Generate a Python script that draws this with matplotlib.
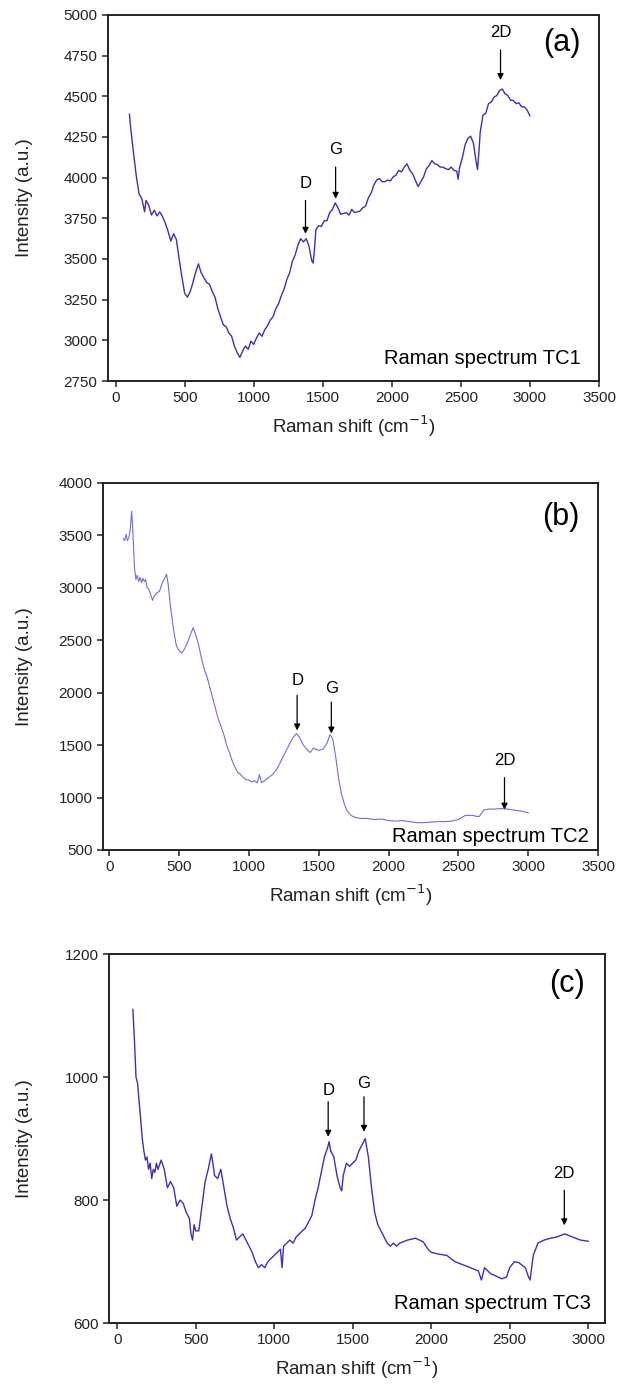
import matplotlib
matplotlib.use("Agg")
import matplotlib.pyplot as plt

plt.rcParams['font.family'] = ['Liberation Sans', 'DejaVu Sans']

# Raman shift / intensity
x_tc1 = [100, 110, 130, 150, 170, 190, 200, 210, 220, 240, 260, 280, 300, 320, 340, 360, 380,
         400, 420, 440, 460, 480, 500, 520, 540, 560, 580, 600, 620, 640, 660, 680, 700, 720,
         740, 760, 780, 800, 820, 840, 860, 880, 900, 920, 940, 960, 980, 1000, 1020, 1040,
         1060, 1080, 1100, 1120, 1140, 1160, 1180, 1200, 1220, 1240, 1260, 1280, 1300, 1320,
         1340, 1360, 1380, 1400, 1420, 1430, 1440, 1450, 1470, 1490, 1510, 1530, 1550, 1570,
         1590, 1610, 1630, 1650, 1670, 1690, 1710, 1730, 1750, 1770, 1790, 1810, 1830, 1850,
         1870, 1890, 1910, 1930, 1950, 1970, 1990, 2010, 2030, 2050, 2070, 2090, 2110, 2130,
         2150, 2170, 2190, 2210, 2230, 2250, 2270, 2290, 2310, 2330, 2350, 2370, 2390, 2410,
         2430, 2450, 2470, 2480, 2490, 2510, 2530, 2550, 2570, 2590, 2610, 2620, 2630, 2640,
         2660, 2680, 2700, 2720, 2740, 2760, 2780, 2800, 2820, 2840, 2860, 2880, 2900, 2920,
         2940, 2960, 2980, 3000]
y_tc1 = [4390, 4300, 4150, 4010, 3900, 3870, 3830, 3790, 3860, 3830, 3770, 3800, 3765, 3790,
         3760, 3720, 3670, 3610, 3655, 3620, 3500, 3390, 3290, 3265, 3300, 3355, 3420, 3470,
         3415, 3385, 3355, 3345, 3300, 3265, 3195, 3145, 3095, 3085, 3045, 3025, 2965, 2925,
         2895, 2935, 2965, 2945, 2995, 2975, 3015, 3045, 3025, 3065, 3090, 3125, 3145, 3195,
         3225, 3275, 3315, 3375, 3415, 3485, 3525, 3585, 3625, 3605, 3625, 3580, 3490, 3475,
         3560, 3680, 3705, 3700, 3735, 3735, 3785, 3805, 3845, 3815, 3775, 3780, 3785, 3770,
         3805, 3785, 3790, 3795, 3815, 3825, 3875, 3905, 3955, 3985, 3995, 3975, 3975, 3985,
         3980, 4005, 4015, 4045, 4035, 4065, 4085, 4045, 4025, 3985, 3945, 3975, 4005, 4055,
         4075, 4105, 4085, 4080, 4065, 4065, 4055, 4050, 4065, 4045, 4040, 3990, 4060, 4120,
         4200, 4240, 4255, 4215, 4100, 4050, 4150, 4280, 4385, 4395, 4455, 4465, 4495, 4505,
         4535, 4545, 4515, 4505, 4475, 4475, 4455, 4460, 4435, 4435, 4415, 4380]

x_tc2 = [100, 110, 120, 130, 140, 150, 160, 170, 180, 190, 200, 210, 220, 230, 240, 250, 260,
         270, 280, 290, 300, 310, 320, 340, 360, 380, 400, 410, 420, 440, 460, 480, 500, 520,
         540, 560, 580, 600, 620, 640, 660, 680, 700, 720, 740, 760, 780, 800, 820, 840, 860,
         880, 900, 920, 940, 960, 980, 1000, 1020, 1040, 1060, 1075, 1090, 1110, 1140, 1170,
         1200, 1230, 1260, 1290, 1320, 1340, 1360, 1390, 1420, 1440, 1460, 1480, 1500, 1530,
         1560, 1580, 1600, 1620, 1640, 1660, 1680, 1700, 1730, 1760, 1800, 1850, 1900, 1950,
         2000, 2050, 2100, 2150, 2200, 2250, 2300, 2350, 2400, 2450, 2500, 2550, 2600, 2630,
         2650, 2680, 2720, 2760, 2800, 2850, 2900, 2950, 3000]
y_tc2 = [3470, 3450, 3510, 3450, 3480, 3560, 3730, 3500, 3200, 3080, 3120, 3060, 3100, 3050,
         3090, 3060, 3080, 3000, 2990, 2960, 2920, 2880, 2920, 2950, 2970, 3050, 3100, 3130,
         3050, 2800, 2600, 2450, 2400, 2380, 2420, 2480, 2550, 2620, 2550, 2450, 2330, 2220,
         2150, 2050, 1950, 1850, 1750, 1680, 1600, 1500, 1430, 1350, 1290, 1240, 1220, 1190,
         1170, 1165, 1150, 1160, 1140, 1220, 1140, 1160, 1190, 1220, 1270, 1350, 1430, 1510,
         1580, 1610, 1580, 1500, 1450, 1430, 1470, 1460, 1450, 1460, 1520, 1600, 1560, 1400,
         1200, 1050, 950, 880, 830, 810, 800, 800, 790, 795, 780, 775, 780, 770, 760, 760, 765,
         770, 770, 775, 790, 830, 830, 820, 820, 880, 890, 890, 895, 890, 880, 870, 855]

x_tc3 = [100, 110, 120, 130, 140, 150, 160, 170, 180, 190, 200, 210, 220, 230, 240, 250, 260,
         280, 300, 320, 340, 360, 380, 400, 420, 440, 460, 470, 480, 490, 500, 520, 540, 560,
         580, 600, 610, 620, 640, 660, 680, 700, 720, 740, 760, 780, 800, 820, 840, 860, 880,
         900, 920, 940, 960, 980, 1000, 1020, 1040, 1050, 1060, 1080, 1100, 1120, 1140, 1160,
         1180, 1200, 1220, 1240, 1260, 1280, 1300, 1320, 1340, 1350, 1360, 1380, 1400, 1420,
         1430, 1440, 1460, 1480, 1500, 1520, 1540, 1560, 1580, 1600, 1620, 1640, 1660, 1680,
         1700, 1720, 1740, 1760, 1780, 1800, 1850, 1900, 1950, 1980, 2000, 2050, 2100, 2150,
         2200, 2250, 2300, 2320, 2340, 2380, 2400, 2450, 2480, 2500, 2530, 2560, 2600, 2620,
         2630, 2650, 2680, 2720, 2760, 2800, 2850, 2900, 2950, 3000]
y_tc3 = [1110, 1060, 1000, 990, 960, 930, 900, 880, 865, 870, 850, 860, 835, 850, 845, 860,
         850, 865, 850, 820, 830, 820, 790, 800, 795, 780, 770, 745, 735, 760, 750, 750, 790,
         830, 850, 875, 860, 840, 835, 850, 820, 790, 770, 755, 735, 740, 745, 735, 725, 715,
         700, 690, 695, 690, 700, 705, 710, 715, 720, 690, 725, 730, 735, 730, 740, 745, 750,
         755, 765, 775, 800, 820, 845, 870, 885, 895, 880, 870, 840, 820, 815, 840, 860, 855,
         860, 865, 880, 890, 900, 870, 820, 780, 760, 750, 740, 730, 725, 730, 725, 730, 735,
         738, 732, 720, 715, 712, 710, 700, 695, 690, 685, 670, 690, 680, 678, 672, 675, 690,
         700, 698, 690, 675, 670, 710, 730, 735, 738, 740, 745, 740, 735, 733]

# arrow marks: (label, x, text y, arrow tail y, arrow tip y)
peaks_tc1 = [('D', 1375, 3965, 3860, 3655), ('G', 1593, 4175, 4065, 3870), ('2D', 2787, 4890, 4785, 4600)]
peaks_tc2 = [('D', 1345, 2120, 1975, 1640), ('G', 1590, 2040, 1910, 1610), ('2D', 2830, 1350, 1190, 885)]
peaks_tc3 = [('D', 1344, 979, 960, 903), ('G', 1572, 989, 968, 911), ('2D', 2848, 843, 816, 759)]

panels = [
    dict(x=x_tc1, y=y_tc1, peaks=peaks_tc1, ylim=(2750, 5000), yticks=range(2750, 5001, 250),
         xlim=(-55, 3500), xticks=range(0, 3501, 500), color='#3c30b4', lw=1.0,
         tag='(a)', tag_y=4828, name='Raman spectrum TC1', name_xy=(3370, 2891),
         pos=[0.1717, 0.7253, 0.7806, 0.2639]),
    dict(x=x_tc2, y=y_tc2, peaks=peaks_tc2, ylim=(500, 4000), yticks=range(500, 4001, 500),
         xlim=(-45, 3500), xticks=range(0, 3501, 500), color='#6e6ed8', lw=0.8,
         tag='(b)', tag_y=3680, name='Raman spectrum TC2', name_xy=(3430, 630),
         pos=[0.1638, 0.3872, 0.787, 0.2646]),
    dict(x=x_tc3, y=y_tc3, peaks=peaks_tc3, ylim=(600, 1200), yticks=range(600, 1201, 200),
         xlim=(-52, 3105), xticks=range(0, 3001, 500), color='#3c30b4', lw=1.0,
         tag='(c)', tag_y=1152, name='Raman spectrum TC3', name_xy=(3018, 631),
         pos=[0.1733, 0.0461, 0.788, 0.266]),
]

fig = plt.figure(figsize=(6.29, 13.87), dpi=100)

for p in panels:
    ax = fig.add_axes(p['pos'])
    ax.plot(p['x'], p['y'], color=p['color'], lw=p['lw'])
    ax.set_xlim(*p['xlim'])
    ax.set_ylim(*p['ylim'])
    ax.set_xticks(list(p['xticks']))
    ax.set_yticks(list(p['yticks']))
    ax.tick_params(direction='out', length=4.5, width=1.1, labelsize=11, colors='#222222', pad=3)
    for s in ax.spines.values():
        s.set_linewidth(1.4)
        s.set_color('#222222')
    ax.set_xlabel('Raman shift (cm$^{-1}$)', fontsize=13.5, color='#222222', labelpad=6)
    ax.set_ylabel('Intensity (a.u.)', fontsize=13.5, color='#222222')
    # keep the label centre about 25 px from the figure edge
    ax.yaxis.set_label_coords((33 - p['pos'][0] * 629) / (p['pos'][2] * 629), 0.5)

    for label, px, ty, tail, tip in p['peaks']:
        ax.annotate('', xy=(px, tip), xytext=(px, tail),
                    arrowprops=dict(arrowstyle='-|>', color='black', lw=0.9,
                                    mutation_scale=9, shrinkA=0, shrinkB=0))
        ax.text(px, ty, label, ha='center', va='center', fontsize=12)

    tag_x = p['xlim'][0] + 0.925 * (p['xlim'][1] - p['xlim'][0])
    ax.text(tag_x, p['tag_y'], p['tag'], ha='center', va='center', fontsize=22)
    ax.text(p['name_xy'][0], p['name_xy'][1], p['name'], ha='right', va='center', fontsize=14.5)

fig.savefig('out.png', dpi=100)
